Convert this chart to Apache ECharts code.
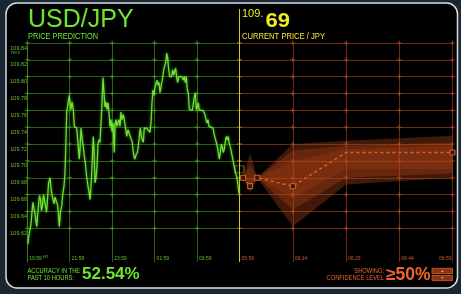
<!DOCTYPE html>
<html><head><meta charset="utf-8">
<script src="https://cdn.jsdelivr.net/npm/echarts/dist/echarts.min.js"></script>
<style>html,body{margin:0;padding:0;background:#1a2631;}#c{width:461px;height:294px;}</style>
</head><body><div id="c"></div>
<script>
// ---------- data ----------
const pastTickLabels = ['19:59','21:59','23:59','01:59','03:59','05:59'];
const futureTickLabels = ['05:59','06:14','06:29','06:44','06:59'];
const priceTickLabels = ['109.84','109.82','109.80','109.78','109.76','109.74','109.72','109.70','109.68','109.66','109.64','109.62'];

// minutes since 19:59
const pastMinutes = [
2,3.4,7.6,10.5,13.3,16.1,18.9,21.8,24.6,26.6,
28.8,31.7,34.5,37.3,40.2,43,45.8,48.6,51.5,54.3,
57.1,59.9,64.2,67,69.8,72.7,75.5,78.3,81.1,85.4,
88.2,90.5,93.9,97.3,100.1,103.8,106.6,109.4,111.4,115.9,
118.8,120.7,123.6,126.4,130.1,132.9,136.9,139.7,142.5,145.3,
147,149,151.8,155.5,158.3,161.2,164,168,171.6,174.5,
177.3,180.1,182.9,186.6,188.6,191.4,194.2,197.1,199.9,202.7,
205.6,208.4,211.2,214,216.9,219.7,222.5,225.3,228.2,231,
233.8,236.6,239.5,242.3,246,248,250.8,253.6,256.5,259.3,
262.1,264.9,267.8,271.4,274.3,277.1,281.1,284.7,288.4,291.2,
294.1,296.9,299.7,303.7,307.3,311,313.9,316.7,319.5,322.3,
325.2,328,330.8,333.6,337.6,342.1,346.9,349.8,352.6,355.4,
358.2,361.1,363.9,366.7,369.5,372.4,375.2,378,380.8,383.7,
386.5,389.3,392.2,394.1,397,399.8,402.6,405.4,408.3,411.1,
413.9,416.8,419.6,422.4,425.2,428.1,431.8,437.4,441.1,444,
446.8,449.6,452.4,455.2,458.1,460.9,463.7,466.5,469.4,472.2,
475,477.9,480.7,483.5,486.3,491.1,496.8,502.4,505.3,508.1,
510.9,513.8,519.4,525.1,528.7,531.6,534.4,537.2,540.1,542.9,
545.7,548.5,551.4,554.2,557,559.8,562.7,565.5,568.3,571.2,
574,576.8,579.6,582.5,585.3,588.1,592.1,594.9,597.2,600];
const pastPrices = [
109.601,109.609,109.610,109.625,109.640,109.651,109.643,109.638,109.628,109.622,
109.633,109.648,109.659,109.654,109.641,109.647,109.660,109.659,109.647,109.639,
109.654,109.673,109.680,109.668,109.659,109.661,109.649,109.657,109.658,109.648,
109.636,109.622,109.640,109.646,109.660,109.670,109.686,109.725,109.758,109.770,
109.778,109.769,109.761,109.770,109.761,109.741,109.739,109.739,109.725,109.710,
109.702,109.714,109.739,109.725,109.717,109.705,109.698,109.681,109.670,109.663,
109.654,109.670,109.693,109.729,109.714,109.674,109.680,109.693,109.720,109.725,
109.722,109.745,109.769,109.799,109.781,109.764,109.770,109.761,109.769,109.758,
109.741,109.749,109.735,109.745,109.710,109.743,109.749,109.741,109.739,109.749,
109.741,109.758,109.749,109.755,109.749,109.741,109.729,109.737,109.739,109.729,
109.728,109.722,109.710,109.702,109.707,109.710,109.717,109.729,109.739,109.729,
109.725,109.722,109.739,109.739,109.739,109.739,109.734,109.745,109.769,109.784,
109.778,109.787,109.788,109.796,109.790,109.793,109.781,109.788,109.794,109.802,
109.810,109.814,109.818,109.828,109.822,109.808,109.800,109.800,109.800,109.808,
109.802,109.800,109.810,109.799,109.793,109.800,109.800,109.800,109.796,109.800,
109.793,109.800,109.784,109.781,109.761,109.761,109.761,109.760,109.761,109.776,
109.781,109.761,109.761,109.769,109.760,109.760,109.760,109.755,109.749,109.745,
109.749,109.741,109.741,109.739,109.731,109.729,109.722,109.717,109.710,109.702,
109.710,109.720,109.716,109.710,109.714,109.723,109.729,109.725,109.729,109.720,
109.717,109.711,109.705,109.699,109.692,109.692,109.681,109.674,109.666,109.660];

// minutes since 05:59
const forecastMinutes = [1, 3, 5, 15, 30, 60];
const forecastMean = [109.680, 109.670, 109.680, 109.670, 109.710, 109.710];
const outerLow  = [109.680, 109.662, 109.680, 109.622, 109.672, 109.680];
const outerHigh = [109.680, 109.709, 109.680, 109.720, 109.724, 109.730];
const midLow    = [109.680, 109.668, 109.680, 109.642, 109.680, 109.685];
const midHigh   = [109.680, 109.695, 109.680, 109.712, 109.718, 109.722];
const innerLow  = [109.680, 109.670, 109.680, 109.656, 109.690, 109.690];
const innerHigh = [109.680, 109.680, 109.680, 109.700, 109.714, 109.718];

const currentPrice = 109.69;
const currentInt = '109.';
const currentDec = '69';
const accuracyText = '52.54%';
const confidenceText = '≥50%';

// ---------- chart ----------
const FONT = '"Liberation Sans", Arial, sans-serif';
const GREEN = '#6fe531';
const GREEN_GRID = '#2c5e14';
const ORANGE = '#f0652a';
const ORANGE_GRID = '#6a2a12';
const YELLOW = '#f2ea22';
const Y_MIN = 109.58, Y_MAX = 109.84, Y_INT = 0.02;

const pastXTicks = pastTickLabels.map((_, i) => i * 120);
const futureXTicks = futureTickLabels.map((_, i) => i * 15);
const yTickVals = priceTickLabels.map(Number);
const crossLeft = pastXTicks.flatMap(x => yTickVals.map(y => [x, y]));
const crossRight = futureXTicks.flatMap(x => yTickVals.map(y => [x, y]));

// split line colours: hide the two lowest lines (109.58, 109.60)
const nLines = Math.round((Y_MAX - Y_MIN) / Y_INT) + 1;
const greenLines = [], orangeLines = [];
for (let i = 0; i < nLines; i++) {
  greenLines.push(i < 2 ? 'rgba(0,0,0,0)' : GREEN_GRID);
  orangeLines.push(i < 2 ? 'rgba(0,0,0,0)' : ORANGE_GRID);
}

function bandSeries(low, high, color) {
  return {
    type: 'custom', xAxisIndex: 1, yAxisIndex: 1, silent: true, z: 3,
    data: [[forecastMinutes[0], forecastMean[0]]],
    renderItem: function (params, api) {
      const pts = [];
      for (let i = 0; i < forecastMinutes.length; i++) pts.push(api.coord([forecastMinutes[i], high[i]]));
      for (let i = forecastMinutes.length - 1; i >= 0; i--) pts.push(api.coord([forecastMinutes[i], low[i]]));
      return { type: 'polygon', shape: { points: pts }, style: { fill: color } };
    }
  };
}

const smallText = (text, x, y, color, align) => ({
  type: 'text', x: x, y: y, scaleX: 0.82, z: 20,
  style: { text: text, fill: color, fontSize: 7, fontFamily: FONT, align: align || 'left', verticalAlign: 'middle' }
});

const option = {
  animation: false,
  backgroundColor: 'transparent',
  grid: [
    { left: 27.3, right: 461 - 239.5, top: 43, bottom: 294 - 262, containLabel: false, outerBoundsMode: 'none' },
    { left: 239.5, right: 461 - 452.5, top: 43, bottom: 294 - 262, containLabel: false, outerBoundsMode: 'none' }
  ],
  xAxis: [
    { gridIndex: 0, type: 'value', min: 0, max: 600, interval: 120,
      axisLine: { show: false }, axisTick: { show: false },
      splitLine: { show: true, lineStyle: { color: GREEN_GRID, width: 1 } },
      axisLabel: { inside: true, margin: 1, align: 'left', padding: [0, 0, 0, 2],
        fontSize: 5, fontFamily: FONT, color: '#62c032', showMaxLabel: true, showMinLabel: true,
        formatter: v => { const i = Math.round(v / 120); if (i >= pastTickLabels.length - 1) return '';
          return i === 0 ? '{a|' + pastTickLabels[0] + '}{s| EST}' : pastTickLabels[i]; },
        rich: { a: { fontSize: 5, fontFamily: FONT, color: '#62c032' }, s: { fontSize: 3, fontFamily: FONT, color: '#62c032', verticalAlign: 'top' } } } },
    { gridIndex: 1, type: 'value', min: 0, max: 60, interval: 15,
      axisLine: { show: false }, axisTick: { show: false },
      splitLine: { show: true, lineStyle: { color: ORANGE_GRID, width: 1 } },
      axisLabel: { inside: true, margin: 1, align: 'left', alignMaxLabel: 'right', padding: [0, 1, 0, 2],
        fontSize: 5, fontFamily: FONT, color: '#d0582a', showMaxLabel: true, showMinLabel: true,
        formatter: v => futureTickLabels[Math.round(v / 15)] } }
  ],
  yAxis: [
    { gridIndex: 0, type: 'value', min: Y_MIN, max: Y_MAX, interval: Y_INT,
      axisLine: { show: true, lineStyle: { color: '#3c801a', width: 1 } }, axisTick: { show: false },
      splitLine: { show: true, lineStyle: { color: greenLines, width: 1 } },
      axisLabel: { align: 'left', margin: 17, verticalAlign: 'top', padding: [2, 0, 0, 0],
        fontSize: 5.5, fontFamily: FONT, color: '#6cc03a', showMaxLabel: true, showMinLabel: true,
        formatter: v => v > 109.61 ? v.toFixed(2) : '' } },
    { gridIndex: 1, type: 'value', min: Y_MIN, max: Y_MAX, interval: Y_INT,
      axisLine: { show: false }, axisTick: { show: false }, axisLabel: { show: false },
      splitLine: { show: true, lineStyle: { color: orangeLines, width: 1 } } }
  ],
  series: [
    { type: 'scatter', xAxisIndex: 0, yAxisIndex: 0, data: crossLeft, symbol: 'rect', symbolSize: [5, 1], silent: true, itemStyle: { color: '#4a9e20' }, z: 1 },
    { type: 'scatter', xAxisIndex: 0, yAxisIndex: 0, data: crossLeft, symbol: 'rect', symbolSize: [1, 5], silent: true, itemStyle: { color: '#4a9e20' }, z: 1 },
    { type: 'scatter', xAxisIndex: 1, yAxisIndex: 1, data: crossRight, symbol: 'rect', symbolSize: [5, 1], silent: true, itemStyle: { color: '#b4461a' }, z: 1 },
    { type: 'scatter', xAxisIndex: 1, yAxisIndex: 1, data: crossRight, symbol: 'rect', symbolSize: [1, 5], silent: true, itemStyle: { color: '#b4461a' }, z: 1 },
    bandSeries(outerLow, outerHigh, 'rgba(190,72,26,0.34)'),
    bandSeries(midLow, midHigh, 'rgba(190,72,26,0.30)'),
    bandSeries(innerLow, innerHigh, 'rgba(190,72,26,0.24)'),
    { type: 'line', xAxisIndex: 0, yAxisIndex: 0, silent: true,
      data: pastMinutes.map((m, i) => [m, pastPrices[i]]),
      showSymbol: false, symbol: 'none',
      lineStyle: { color: GREEN, width: 1.2, shadowBlur: 3, shadowColor: 'rgba(110,255,50,0.7)' }, z: 6 },
    { type: 'line', xAxisIndex: 1, yAxisIndex: 1, silent: true,
      data: forecastMinutes.map((m, i) => i === 4 ? { value: [m, forecastMean[i]], symbol: 'none' } : [m, forecastMean[i]]),
      symbol: 'rect', symbolSize: 5, showSymbol: true,
      itemStyle: { color: '#3a1508', borderColor: '#e0602a', borderWidth: 1 },
      lineStyle: { color: '#e0602a', width: 1.4, type: [3, 3] }, z: 7 },
    { type: 'scatter', xAxisIndex: 1, yAxisIndex: 1, silent: true,
      data: [[0, currentPrice]], symbol: 'rect', symbolSize: [9, 7],
      itemStyle: { color: 'rgba(0,0,0,0)', borderColor: '#8c8a26', borderWidth: 1 }, z: 5 }
  ],
  graphic: [
    { type: 'rect', z: -10, shape: { x: 6, y: 3, width: 451.5, height: 285, r: 11 },
      style: { fill: '#000', stroke: '#d9dee2', lineWidth: 1.5 } },
    { type: 'line', z: 8, shape: { x1: 239.5, y1: 9, x2: 239.5, y2: 262 }, style: { stroke: '#cfc62a', lineWidth: 1 } },
    { type: 'text', x: 28, y: 19.8, z: 20, style: { text: 'USD/JPY', fill: GREEN, fontSize: 25, fontFamily: FONT, verticalAlign: 'middle' } },
    { type: 'text', x: 28, y: 36.2, scaleX: 0.88, z: 20, style: { text: 'PRICE PREDICTION', fill: GREEN, fontSize: 8.4, fontFamily: FONT, verticalAlign: 'middle' } },
    { type: 'text', x: 242, y: 14.4, z: 20, style: { text: currentInt, fill: YELLOW, fontSize: 11, fontFamily: FONT, verticalAlign: 'middle' } },
    { type: 'text', x: 265.5, y: 21.4, scaleX: 1.1, z: 20, style: { text: currentDec, fill: YELLOW, fontSize: 20, fontWeight: 'bold', fontFamily: FONT, verticalAlign: 'middle' } },
    { type: 'text', x: 242, y: 36.2, scaleX: 0.91, z: 20, style: { text: 'CURRENT PRICE / JPY', fill: YELLOW, fontSize: 8.4, fontFamily: FONT, verticalAlign: 'middle' } },
    { type: 'text', x: 11, y: 53.5, z: 20, style: { text: 'PRICE', fill: '#5fae32', fontSize: 3, fontFamily: FONT, verticalAlign: 'middle' } },
    smallText('ACCURACY IN THE', 27.5, 270.9, GREEN),
    smallText('PAST 10 HOURS:', 27.5, 278.3, GREEN),
    { type: 'text', x: 82, y: 274.3, z: 20, style: { text: accuracyText, fill: GREEN, fontSize: 17, fontWeight: 'bold', fontFamily: FONT, verticalAlign: 'middle' } },
    smallText('SHOWING:', 384, 270.9, ORANGE, 'right'),
    smallText('CONFIDENCE LEVEL', 384, 278.3, ORANGE, 'right'),
    { type: 'text', x: 386, y: 274.7, z: 20, style: { text: confidenceText, fill: ORANGE, fontSize: 17.5, fontWeight: 'bold', fontFamily: FONT, verticalAlign: 'middle' } },
    { type: 'rect', z: 20, shape: { x: 432, y: 268.3, width: 20.5, height: 5.2 }, style: { fill: '#8a3212', stroke: '#d8602a', lineWidth: 0.8 } },
    { type: 'rect', z: 20, shape: { x: 432, y: 275.5, width: 20.5, height: 5.2 }, style: { fill: '#8a3212', stroke: '#d8602a', lineWidth: 0.8 } },
    { type: 'polygon', z: 21, shape: { points: [[440.7, 271.9], [443.8, 271.9], [442.25, 270.2]] }, style: { fill: '#f2a070' } },
    { type: 'polygon', z: 21, shape: { points: [[440.7, 277.3], [443.8, 277.3], [442.25, 279.0]] }, style: { fill: '#f2a070' } }
  ]
};
const chart = echarts.init(document.getElementById('c'));
chart.setOption(option);
</script>
</body></html>
